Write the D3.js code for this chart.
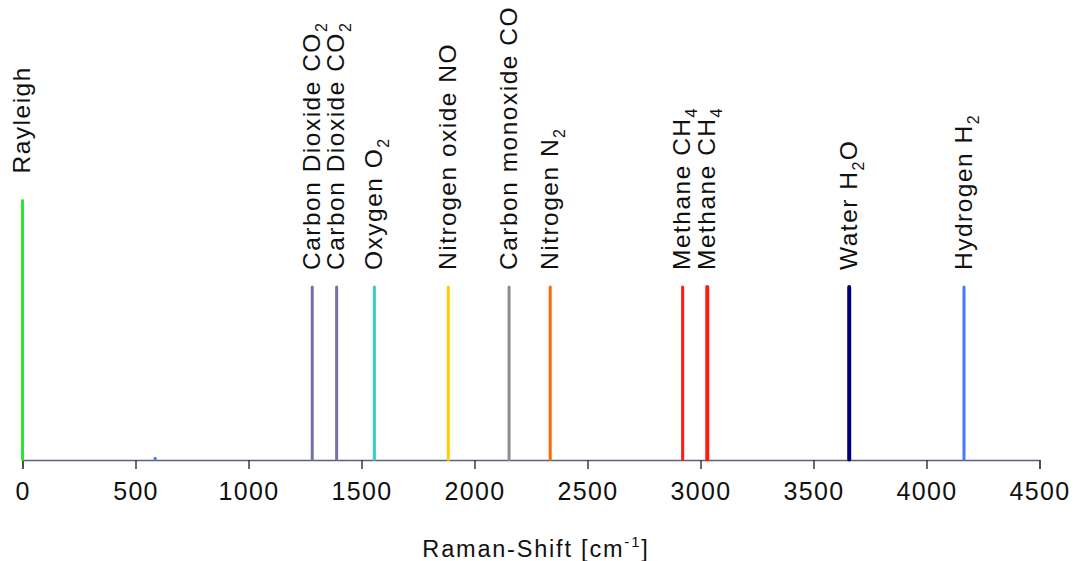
<!DOCTYPE html>
<html>
<head>
<meta charset="utf-8">
<script src="https://cdn.jsdelivr.net/npm/d3@7"></script>
<style>
  html, body { margin: 0; padding: 0; background: #fff; }
  svg text { font-family: "Liberation Sans", Arial, sans-serif; fill: #111; }
</style>
</head>
<body>
<svg width="1076" height="561"></svg>
<script>
// peaks: Raman shift [cm-1] and relative intensity
const shifts      = [0,   587,  1282, 1390, 1557, 1884, 2153, 2335, 2921, 3030, 3658, 4166];
const intensities = [1.5, 0.01, 1,    1,    1,    1,    1,    1,    1,    1,    1,    1];
// label = [name, subscript, trailing]
const labels = [
    ["Rayleigh", "", ""],
    null,
    ["Carbon Dioxide CO", "2", ""],
    ["Carbon Dioxide CO", "2", ""],
    ["Oxygen O", "2", ""],
    ["Nitrogen oxide NO", "", ""],
    ["Carbon monoxide CO", "", ""],
    ["Nitrogen N", "2", ""],
    ["Methane CH", "4", ""],
    ["Methane CH", "4", ""],
    ["Water H", "2", "O"],
    ["Hydrogen H", "2", ""]
];
const colors = ["#2ee62e", "#4a78ff", "#7272a6", "#7272a6", "#35cccc", "#ffcc00",
                "#8c8c8c", "#ff6a00", "#ff1a0a", "#ff1a0a", "#00007e", "#4a78ff"];
const widths = [3, 3, 3, 3, 3, 3, 3, 3, 3, 4, 4, 3];
const xTicks = [0, 500, 1000, 1500, 2000, 2500, 3000, 3500, 4000, 4500];

const svg = d3.select("svg");

const x = d3.scaleLinear().domain([0, 4500]).range([22.5, 1039.5]);
const y = d3.scaleLinear().domain([0, 1]).range([460, 287]);

// axis
const axis = svg.append("g")
    .attr("transform", `translate(0,${y(0)})`)
    .call(d3.axisBottom(x).tickValues(xTicks).tickSize(9).tickPadding(13).tickFormat(d3.format("d")));
axis.select(".domain").attr("stroke", "#5e5e80").attr("stroke-width", 1.5);
axis.selectAll(".tick line").attr("stroke", "#3a3a48").attr("stroke-width", 1.5);
axis.selectAll(".tick text")
    .style("font-size", "25px")
    .style("letter-spacing", "1.3px")
    .attr("fill", "#111");

// axis title
const title = svg.append("text")
    .attr("x", 536)
    .attr("y", 557)
    .attr("text-anchor", "middle")
    .style("font-size", "23.5px")
    .style("letter-spacing", "1.8px");
title.append("tspan").text("Raman-Shift [cm");
title.append("tspan").attr("dy", -10).style("font-size", "15px").text("-1");
title.append("tspan").attr("dy", 10).text("]");

const peaks = shifts.map((s, i) => ({shift: s, val: intensities[i], label: labels[i], color: colors[i], w: widths[i]}));

// peak lines
svg.append("g").selectAll("line")
    .data(peaks)
    .join("line")
    .attr("x1", d => x(d.shift))
    .attr("x2", d => x(d.shift))
    .attr("y1", y(0) - 0.5)
    .attr("y2", d => y(d.val))
    .attr("stroke", d => d.color)
    .attr("stroke-width", d => d.w)
    .attr("stroke-linecap", "round");

// rotated labels
const lab = svg.append("g").selectAll("text")
    .data(peaks.filter(d => d.label))
    .join("text")
    .attr("transform", (d, i) => `translate(${x(d.shift) + 7.5},${y(d.val) - (i == 0 ? 27 : 17)}) rotate(-90)`)
    .style("font-size", "24.5px")
    .style("letter-spacing", "1.5px");

lab.each(function (d) {
    const t = d3.select(this);
    t.append("tspan").text(d.label[0]);
    if (d.label[1]) {
        t.append("tspan").attr("dy", 7).style("font-size", "16px").text(d.label[1]);
        if (d.label[2]) t.append("tspan").attr("dy", -7).text(d.label[2]);
    }
});
</script>
</body>
</html>
